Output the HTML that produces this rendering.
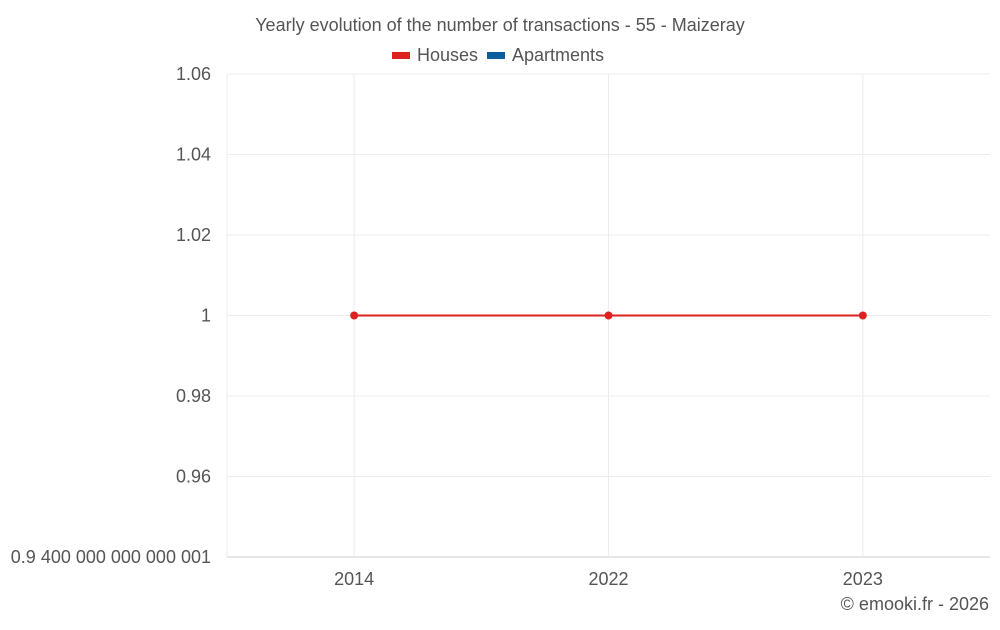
<!DOCTYPE html>
<html><head><meta charset="utf-8"><style>
body{margin:0;background:#fff;width:1000px;height:625px;overflow:hidden;font-family:"Liberation Sans",sans-serif}
svg text{font-family:"Liberation Sans",sans-serif;fill:#555}
</style></head><body>
<svg id="c" width="1000" height="625">
<text x="500" y="31" text-anchor="middle" font-size="18">Yearly evolution of the number of transactions - 55 - Maizeray</text>
<g>
<g><rect x="392" y="52" width="18" height="7" fill="#dd2222"/><text x="417" y="61" font-size="18">Houses</text></g>
<g><rect x="487" y="52" width="18" height="7" fill="#0b5f9e"/><text x="512" y="61" font-size="18">Apartments</text></g>
</g>
<g id="grid"></g><g id="axes"></g><g id="series"></g>
<text x="989" y="610" text-anchor="end" font-size="18">© emooki.fr - 2026</text>
</svg>
<script>
const categories=["2014","2022","2023"];
const houses=[1,1,1];
const yTicks=[0.94,0.96,0.98,1,1.02,1.04,1.06];
const yTickLabels=["0.9 400 000 000 000 001","0.96","0.98","1","1.02","1.04","1.06"];
const L=227,R=990,T=74,B=557,yMin=0.94,yMax=1.06;
const ns="http://www.w3.org/2000/svg";
function y(v){return B-(v-yMin)/(yMax-yMin)*(B-T);}
function x(i){const bw=(R-L)/categories.length;return L+bw*(i+0.5);}
function mk(tag,attrs,parent){const e=document.createElementNS(ns,tag);for(const k in attrs)e.setAttribute(k,attrs[k]);document.getElementById(parent).appendChild(e);return e;}
yTicks.forEach((t,i)=>{
 const g=mk("line",{x1:L,x2:R,y1:y(t),y2:y(t),stroke:i==0?"#ccc":"#ececec"},"grid");
 
 
 const tx=mk("text",{x:211,y:y(t)+6,"text-anchor":"end","font-size":"18"},"axes");
 tx.textContent=yTickLabels[i];
 
 
});
const yl=mk("line",{x1:L,x2:L,y1:T,y2:B,stroke:"#ececec"},"grid");


categories.forEach((c,i)=>{
 const g=mk("line",{x1:x(i),x2:x(i),y1:T,y2:B,stroke:"#ececec"},"grid");
 
 
 const tx=mk("text",{x:x(i),y:585,"text-anchor":"middle","font-size":"18"},"axes");
 tx.textContent=c;
 
 
});
const pl=mk("polyline",{points:houses.map((v,i)=>x(i)+","+y(v)).join(" "),fill:"none",stroke:"#dd2222","stroke-width":2},"series");


houses.forEach((v,i)=>{
 const p=mk("circle",{cx:x(i),cy:y(v),r:4,fill:"#dd2222"},"series");
 
 
});
</script>
</body></html>
